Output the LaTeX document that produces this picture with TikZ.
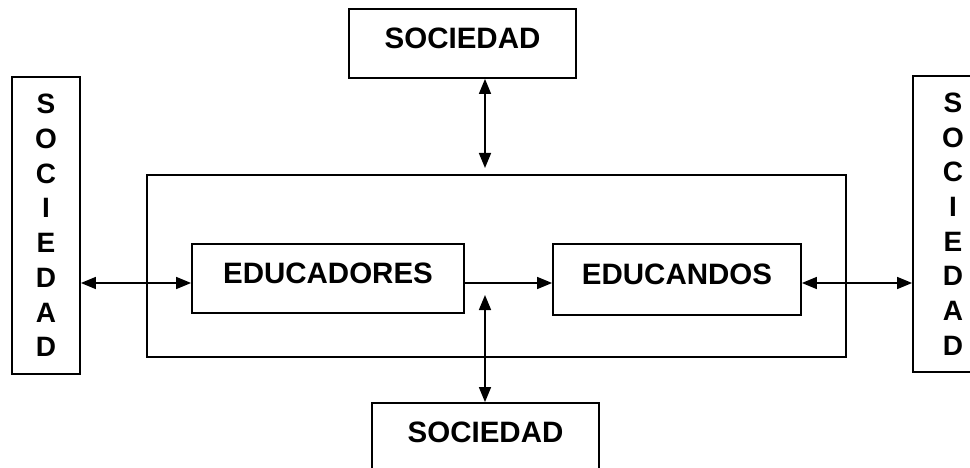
\documentclass[tikz,border=0pt]{standalone}
\usepackage{fontspec}
\setmainfont{Liberation Sans}
\usetikzlibrary{arrows.meta}
\begin{document}
\begin{tikzpicture}[x=1pt,y=-1pt,
  tip/.tip={Triangle[length=15pt,width=12pt]},
  box/.style={draw=black,line width=1.8pt,inner sep=0pt,align=center,
    font=\fontsize{29.5}{34}\selectfont\bfseries},
  hbox/.style={box,text depth=10pt},
  vbox/.style={box,font=\fontsize{28}{34.7}\selectfont\bfseries},
  conn/.style={line width=1.6pt,tip-tip},
  oneway/.style={line width=1.6pt,-tip}]
\fill[white] (0,0) rectangle (970,468);
\clip (0,0) rectangle (970,468);
\useasboundingbox (0,0) rectangle (970,468);
% outer frame
\node[draw=black,line width=1.8pt,minimum width=699pt,minimum height=182pt,inner sep=0pt] (frame) at (496.5,266) {};
% boxes
\node[hbox,minimum width=227pt,minimum height=69pt] (topS) at (462.5,43.5) {SOCIEDAD};
\node[hbox,minimum width=227pt,minimum height=69pt] (botS) at (485.5,437.5) {SOCIEDAD};
\node[vbox,minimum width=68pt,minimum height=297pt] (leftS) at (46,225.5) {S\\O\\C\\I\\E\\D\\A\\D};
\node[vbox,minimum width=80pt,minimum height=296pt] (rightS) at (953,224) {S\\O\\C\\I\\E\\D\\A\\D};
\node[hbox,minimum width=272pt,minimum height=69pt] (edr) at (328,278.5) {EDUCADORES};
\node[hbox,minimum width=248pt,minimum height=71pt] (edn) at (677,279.5) {EDUCANDOS};
% helper coordinates
\coordinate (ya) at (0,283);
\coordinate (ctop) at (485,168);
\coordinate (cmid) at (485,295);
% connectors
\draw[conn] (leftS.east |- ya) -- (edr.west |- ya);
\draw[oneway] (edr.east |- ya) -- (edn.west |- ya);
\draw[conn] (edn.east |- ya) -- (rightS.west |- ya);
\draw[conn] (topS.south -| ctop) -- (ctop);
\draw[conn] (cmid) -- (botS.north -| cmid);
\end{tikzpicture}
\end{document}
